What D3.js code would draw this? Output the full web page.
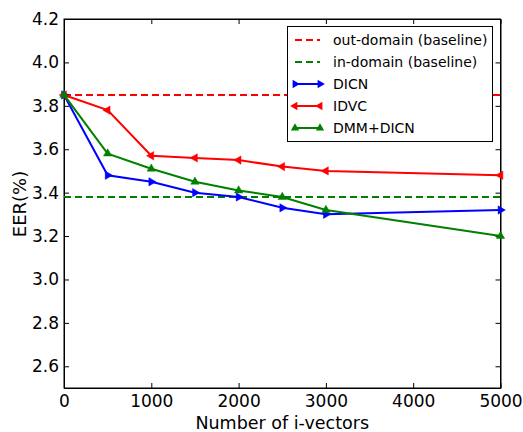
<!DOCTYPE html>
<html>
<head>
<meta charset="utf-8">
<script src="https://cdn.jsdelivr.net/npm/d3@7"></script>
<style>
body{margin:0;background:#fff;}
text{font-family:"DejaVu Sans",sans-serif;}
</style>
</head>
<body>
<svg id="svg" width="523" height="432"></svg>
<script>
// values
let xVals=[0,500,1000,1500,2000,2500,3000,5000];
let dicn=[3.85,3.48,3.45,3.40,3.38,3.33,3.30,3.32];
let idvc=[3.85,3.78,3.57,3.56,3.55,3.52,3.50,3.48];
let dmm=[3.85,3.58,3.51,3.45,3.41,3.38,3.32,3.20];
let outDomain=3.85;
let inDomain=3.38;
let xTicks=[0,1000,2000,3000,4000,5000];
let yTicks=[2.6,2.8,3.0,3.2,3.4,3.6,3.8,4.0,4.2];
let legendNames=["out-domain (baseline)","in-domain (baseline)","DICN","IDVC","DMM+DICN"];

const svg=d3.select("#svg");
const L=64,R=500.5,T=19,B=388;
const x=d3.scaleLinear().domain([0,5000]).range([L,R]);
const y=d3.scaleLinear().domain([2.5,4.2]).range([B,T]);

// axes, ticks pointing inward
svg.append("g").attr("transform","translate(0,"+B+")")
    .call(d3.axisBottom(x).tickValues(xTicks).tickSizeInner(-5).tickSizeOuter(0).tickPadding(7).tickFormat(d3.format("d")));
svg.append("g").attr("transform","translate(0,"+T+")")
    .call(d3.axisTop(x).tickValues(xTicks).tickSizeInner(-5).tickSizeOuter(0).tickFormat(""));
svg.append("g").attr("transform","translate("+L+",0)")
    .call(d3.axisLeft(y).tickValues(yTicks).tickSizeInner(-5).tickSizeOuter(0).tickPadding(5).tickFormat(d3.format(".1f")));
svg.append("g").attr("transform","translate("+R+",0)")
    .call(d3.axisRight(y).tickValues(yTicks).tickSizeInner(-5).tickSizeOuter(0).tickFormat(""));
svg.selectAll(".domain").attr("stroke","#000").attr("stroke-width",1);
svg.selectAll(".tick line").attr("stroke","#000");
svg.selectAll(".tick text").style("font-size","17px").attr("fill","#000");
svg.append("rect").attr("x",L).attr("y",T).attr("width",R-L).attr("height",B-T).attr("fill","none").attr("stroke","#000");

svg.append("text").attr("x",(L+R)/2).attr("y",429).attr("text-anchor","middle").style("font-size","17.5px").text("Number of i-vectors");
svg.append("text").attr("transform","translate(26,204) rotate(-90)").attr("text-anchor","middle").style("font-size","18px").text("EER(%)");

const plot=svg.append("g");
// baselines
plot.append("line").attr("x1",x(0)).attr("x2",x(5000)).attr("y1",y(outDomain)).attr("y2",y(outDomain))
    .attr("stroke","#ff0000").attr("stroke-width",2).attr("stroke-dasharray","7,4");
plot.append("line").attr("x1",x(0)).attr("x2",x(5000)).attr("y1",y(inDomain)).attr("y2",y(inDomain))
    .attr("stroke","#008000").attr("stroke-width",2).attr("stroke-dasharray","7,4");

const line=d3.line().x(d=>x(d[0])).y(d=>y(d[1]));
const tri=d3.symbol().type(d3.symbolTriangle).size(30)();
const series=[
    {vals:dicn,color:"#0000ff",rot:90},
    {vals:idvc,color:"#ff0000",rot:-90},
    {vals:dmm,color:"#008000",rot:0}
];
series.forEach(s=>{
    let pts=xVals.map((v,i)=>[v,s.vals[i]]);
    plot.append("path").attr("d",line(pts)).attr("fill","none").attr("stroke",s.color).attr("stroke-width",2);
    plot.selectAll(null).data(pts).enter().append("path").attr("d",tri)
        .attr("transform",d=>"translate("+x(d[0])+","+y(d[1])+") rotate("+s.rot+")")
        .attr("fill",s.color).attr("stroke",s.color).attr("stroke-width",0.5);
});

// legend
const lg=svg.append("g");
lg.append("rect").attr("x",287.5).attr("y",26.5).attr("width",205).attr("height",115).attr("fill","#fff").attr("stroke","#000");
const legendStyles=[
    {color:"#ff0000",dash:true},
    {color:"#008000",dash:true},
    {color:"#0000ff",rot:90},
    {color:"#ff0000",rot:-90},
    {color:"#008000",rot:0}
];
legendNames.forEach((n,i)=>{
    let yy=40+i*22;
    let st=legendStyles[i];
    lg.append("line").attr("x1",295).attr("x2",320).attr("y1",yy).attr("y2",yy).attr("stroke",st.color).attr("stroke-width",2)
        .attr("stroke-dasharray",st.dash?"7,4":null);
    if(!st.dash)
    {
        [295,320].forEach(px=>{
            lg.append("path").attr("d",tri).attr("transform","translate("+px+","+yy+") rotate("+st.rot+")").attr("fill",st.color);
        });
    }
    lg.append("text").attr("x",333).attr("y",yy+5).style("font-size","14px").text(n);
});
</script>
</body>
</html>
